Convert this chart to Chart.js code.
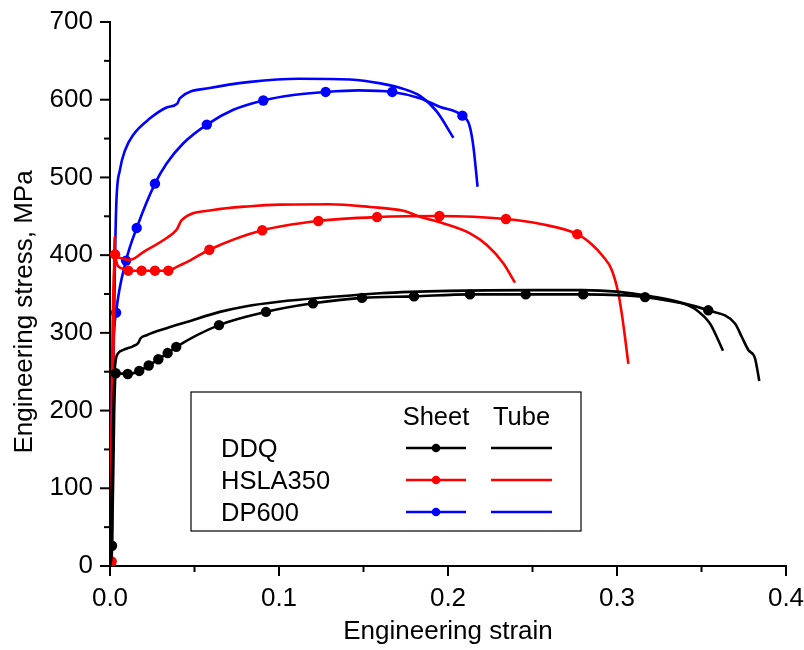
<!DOCTYPE html>
<html>
<head>
<meta charset="utf-8">
<script src="https://cdn.jsdelivr.net/npm/chart.js@4.4.1/dist/chart.umd.min.js"></script>
<style>
  html, body { margin: 0; padding: 0; background: #fff; }
  #wrap { width: 804px; height: 650px; }
</style>
</head>
<body>
<div id="wrap"><canvas id="chart"></canvas></div>
<script>
// ---- data: [strain, stress MPa] ----
const materials = ['DDQ', 'HSLA350', 'DP600'];
const forms = ['Sheet', 'Tube'];
const xTickLabels = ['0.0', '0.1', '0.2', '0.3', '0.4'];
const yTickLabels = ['0', '100', '200', '300', '400', '500', '600', '700'];

// DDQ
const ddqSheetMarks = [[0.0012, 26], [0.0034, 248], [0.0105, 247], [0.0173, 251], [0.0229, 258],
  [0.0286, 266], [0.0341, 274], [0.0392, 282], [0.0645, 310], [0.0923, 327], [0.1201, 338],
  [0.1491, 345], [0.1799, 347], [0.213, 349.5], [0.246, 349.5], [0.28, 349.5], [0.3166, 346], [0.354, 329]];
const ddqSheetCurve = [[0, 0], [0.0025, 200], [0.3698, 312], [0.3738, 295], [0.3777, 278],
  [0.3817, 267], [0.3842, 238]];
const ddqTube = [[0, 0], [0.002, 200], [0.003, 258], [0.0049, 274], [0.0079, 278], [0.0138, 283],
  [0.0167, 287], [0.0181, 293], [0.0217, 297], [0.0335, 306], [0.0454, 314], [0.065, 327],
  [0.08, 334], [0.1, 340], [0.13, 346], [0.16, 351], [0.2, 354], [0.25, 355], [0.28, 355],
  [0.3, 353], [0.32, 347], [0.339, 338], [0.347, 329.5], [0.355, 312], [0.359, 295], [0.3627, 277]];

// HSLA350
const hslaSheetMarks = [[0.001, 6], [0.003, 401], [0.0108, 380], [0.0187, 380], [0.0266, 380],
  [0.0345, 380], [0.0588, 407], [0.0901, 432], [0.1233, 444], [0.158, 449], [0.1949, 450.4],
  [0.2343, 446.5], [0.2765, 427]];
const hslaSheetCurve = [[0, 0], [0.0028, 424], [0.006, 384], [0.0395, 385], [0.048, 394],
  [0.255, 440], [0.285, 414], [0.2919, 398], [0.2969, 381], [0.3008, 351], [0.3028, 325],
  [0.3047, 295], [0.3067, 260]];
const hslaTube = [[0, 0], [0.0015, 300], [0.0028, 390], [0.004, 397], [0.0118, 394], [0.0197, 404],
  [0.0335, 422], [0.0395, 433], [0.0424, 445], [0.061, 458], [0.083, 463], [0.1006, 465],
  [0.13, 465.5], [0.1538, 462], [0.1736, 457], [0.1834, 449.5], [0.197, 441], [0.213, 428],
  [0.223, 413], [0.2327, 389.5], [0.2396, 364.6]];

// DP600
const dpSheetMarks = [[0.0005, 3], [0.0036, 326], [0.0095, 393], [0.0158, 435], [0.0266, 492],
  [0.0573, 568], [0.0907, 599], [0.1276, 610], [0.167, 610], [0.2085, 579.5]];
const dpSheetCurve = [[0.001, 200], [0.0335, 518], [0.0434, 544], [0.073, 587], [0.1085, 606],
  [0.147, 612], [0.1834, 602], [0.195, 591], [0.2126, 567.5], [0.215, 540], [0.2175, 488]];
const dpTube = [[0, 0], [0.002, 250], [0.003, 400], [0.0038, 470], [0.0059, 510], [0.0089, 535],
  [0.0138, 555], [0.0237, 576], [0.0335, 590], [0.0398, 595], [0.0414, 602], [0.059, 615],
  [0.083, 623], [0.112, 627], [0.142, 626], [0.16, 621], [0.175, 613], [0.1834, 605],
  [0.1933, 585], [0.2032, 551]];

const colors = ['#000000', '#ff0000', '#0000ff'];
const FONT = "'Liberation Sans', Arial, sans-serif";
const Y_TITLE = 'Engineering stress, MPa';

const pts = a => a.map(([x, y]) => ({ x, y }));
const merged = (curve, marks) => pts([...curve, ...marks].sort((a, b) => a[0] - b[0]));

function lineSet(label, data, color) {
  return { label, data, showLine: true, borderColor: color, backgroundColor: color,
    borderWidth: 2.6, pointRadius: 0, pointHoverRadius: 0, tension: 0,
    cubicInterpolationMode: 'monotone' };
}
function markSet(label, data, color) {
  return { label, data, showLine: false, borderColor: color, backgroundColor: color,
    borderWidth: 0, pointRadius: 5.2, pointHoverRadius: 5.2 };
}

const datasets = [
  lineSet('DDQ Tube', pts(ddqTube), colors[0]),
  lineSet('DDQ Sheet', merged(ddqSheetCurve, ddqSheetMarks), colors[0]),
  markSet('DDQ Sheet pts', pts(ddqSheetMarks), colors[0]),
  lineSet('HSLA350 Tube', pts(hslaTube), colors[1]),
  lineSet('HSLA350 Sheet', merged(hslaSheetCurve, hslaSheetMarks), colors[1]),
  markSet('HSLA350 Sheet pts', pts(hslaSheetMarks), colors[1]),
  lineSet('DP600 Tube', pts(dpTube), colors[2]),
  lineSet('DP600 Sheet', merged(dpSheetCurve, dpSheetMarks), colors[2]),
  markSet('DP600 Sheet pts', pts(dpSheetMarks), colors[2]),
];

// outward major + minor ticks, plus the rotated y title
const axisTicks = {
  id: 'axisTicks',
  afterDraw(chart) {
    const { ctx, scales: { x, y } } = chart;
    ctx.save();
    ctx.strokeStyle = '#000';
    ctx.lineWidth = 2;
    const xv = x.ticks.map(t => t.value);
    const yv = y.ticks.map(t => t.value);
    const mids = v => v.slice(1).map((t, i) => (t + v[i]) / 2);
    const tickX = (v, len) => { const p = x.getPixelForValue(v); ctx.beginPath(); ctx.moveTo(p, y.bottom); ctx.lineTo(p, y.bottom + len); ctx.stroke(); };
    const tickY = (v, len) => { const p = y.getPixelForValue(v); ctx.beginPath(); ctx.moveTo(x.left, p); ctx.lineTo(x.left - len, p); ctx.stroke(); };
    xv.forEach(v => tickX(v, 10));
    mids(xv).forEach(v => tickX(v, 6));
    yv.forEach(v => tickY(v, 10));
    mids(yv).forEach(v => tickY(v, 6));

    ctx.translate(25, 312);
    ctx.rotate(-Math.PI / 2);
    ctx.font = '26px ' + FONT;
    ctx.fillStyle = '#000';
    ctx.textAlign = 'center';
    ctx.textBaseline = 'middle';
    ctx.fillText(Y_TITLE, 0, 0);
    ctx.restore();
  }
};

// boxed legend: material rows x Sheet/Tube columns
const boxLegend = {
  id: 'boxLegend',
  afterDraw(chart) {
    const { ctx } = chart;
    const box = { left: 191, top: 392, right: 581, bottom: 531 };
    const rowY = [448, 480, 512];
    const colX = [[406, 466], [491, 552]];
    ctx.save();
    ctx.fillStyle = '#fff';
    ctx.fillRect(box.left, box.top, box.right - box.left, box.bottom - box.top);
    ctx.strokeStyle = '#000';
    ctx.lineWidth = 1.2;
    ctx.strokeRect(box.left, box.top, box.right - box.left, box.bottom - box.top);
    ctx.font = '25.5px ' + FONT;
    ctx.fillStyle = '#000';
    ctx.textBaseline = 'alphabetic';
    ctx.textAlign = 'center';
    forms.forEach((f, i) => ctx.fillText(f, (colX[i][0] + colX[i][1]) / 2, 425));
    ctx.textAlign = 'left';
    materials.forEach((m, r) => {
      ctx.fillStyle = '#000';
      ctx.fillText(m, 221, rowY[r] + 9);
      ctx.strokeStyle = colors[r];
      ctx.lineWidth = 2.6;
      colX.forEach(([a, b], c) => {
        ctx.beginPath(); ctx.moveTo(a, rowY[r]); ctx.lineTo(b, rowY[r]); ctx.stroke();
        if (c === 0) {
          ctx.fillStyle = colors[r];
          ctx.beginPath(); ctx.arc((a + b) / 2, rowY[r], 4.3, 0, Math.PI * 2); ctx.fill();
        }
      });
    });
    ctx.restore();
  }
};

new Chart(document.getElementById('chart'), {
  type: 'scatter',
  data: { datasets },
  plugins: [axisTicks, boxLegend],
  options: {
    responsive: true,
    maintainAspectRatio: false,
    animation: false,
    layout: { padding: { left: 0, top: 22, right: 18, bottom: 0 } },
    plugins: { legend: { display: false }, tooltip: { enabled: false } },
    scales: {
      x: {
        type: 'linear', min: 0, max: 0.4,
        afterFit: s => { s.height = 84; s.paddingLeft = 0; s.paddingRight = 0; },
        grid: { display: true, drawOnChartArea: false, drawTicks: false },
        border: { display: true, color: '#000', width: 2 },
        ticks: { stepSize: 0.1, padding: 17, color: '#000', font: { family: FONT, size: 26 },
          callback: (v, i) => xTickLabels[i] },
        title: { display: true, text: 'Engineering strain', color: '#000',
          font: { family: FONT, size: 26 }, padding: { top: 0, bottom: 3 } },
      },
      y: {
        type: 'linear', min: 0, max: 700,
        afterFit: s => { s.width = 110; s.paddingTop = 0; s.paddingBottom = 0; },
        grid: { display: true, drawOnChartArea: false, drawTicks: false },
        border: { display: true, color: '#000', width: 2 },
        ticks: { stepSize: 100, padding: 17, color: '#000', font: { family: FONT, size: 26 },
          callback: (v, i) => yTickLabels[i] },
      },
    },
  },
});
</script>
</body>
</html>
